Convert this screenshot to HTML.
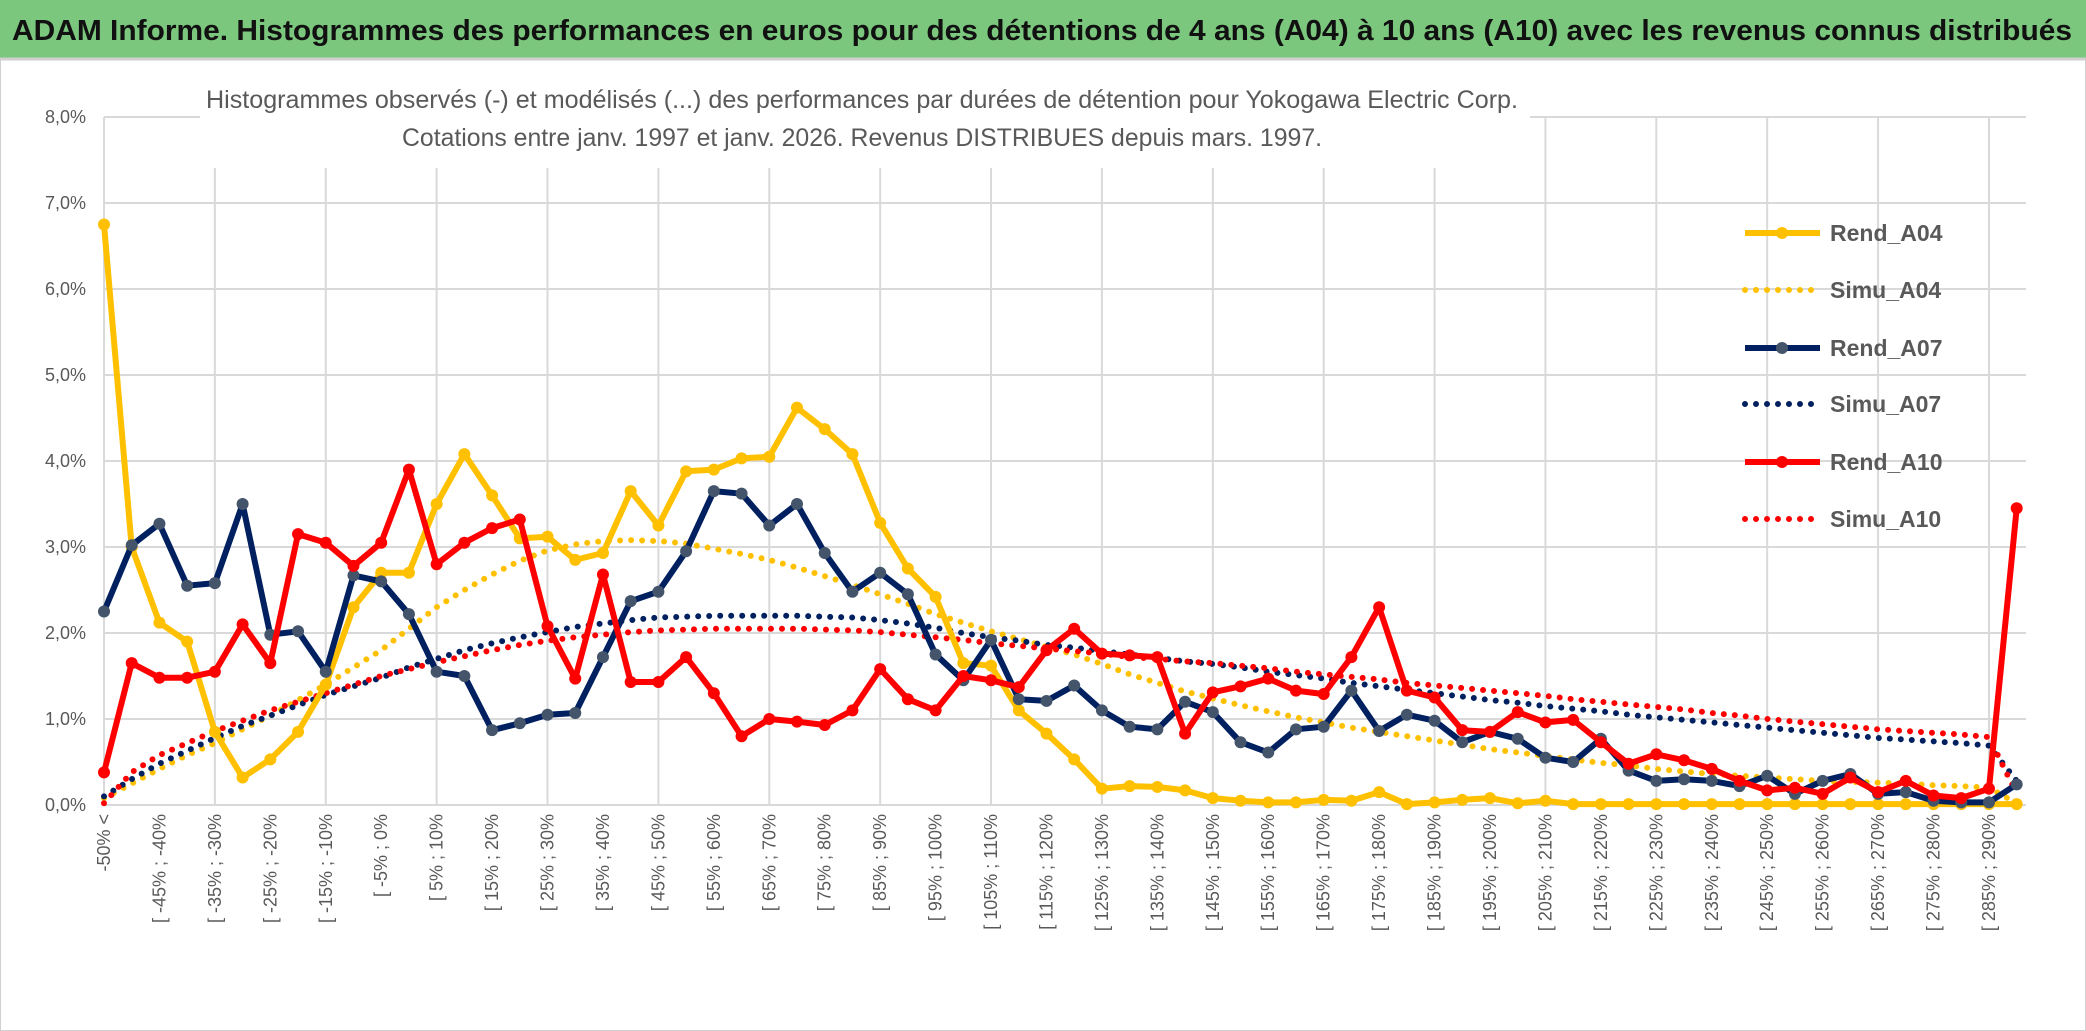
<!DOCTYPE html>
<html><head><meta charset="utf-8"><style>
html,body{margin:0;padding:0;background:#fff;}
#wrap{position:relative;width:2086px;height:1031px;overflow:hidden;background:#fff;font-family:"Liberation Sans Narrow","Liberation Sans",sans-serif;}
</style></head><body>
<div id="wrap">
<svg id="chart" width="2086" height="1031" xmlns="http://www.w3.org/2000/svg">
<rect x="0" y="0" width="2086" height="1031" fill="#fff" stroke="#d0d0d0" stroke-width="2"/>
<rect x="0" y="0" width="2086" height="58" fill="#7cc77e"/>
<line x1="0" y1="59" x2="2086" y2="59" stroke="#cfcfcf" stroke-width="3"/>
<text x="12" y="40" font-size="29" font-weight="bold" fill="#111" textLength="2060" lengthAdjust="spacingAndGlyphs">ADAM Informe. Histogrammes des performances en euros pour des détentions de 4 ans (A04) à 10 ans (A10) avec les revenus connus distribués</text>
<g id="grid"></g>
<g id="ylabels"></g>
<g id="xlabels"></g>
<rect x="200" y="78" width="1330" height="90" fill="#fff"/>
<text x="862" y="108" font-size="25" fill="#595959" text-anchor="middle" textLength="1312" lengthAdjust="spacingAndGlyphs">Histogrammes observés (-) et modélisés (...) des performances par durées de détention pour Yokogawa Electric Corp.</text>
<text x="862" y="146" font-size="25" fill="#595959" text-anchor="middle" textLength="920" lengthAdjust="spacingAndGlyphs">Cotations entre janv. 1997 et janv. 2026. Revenus DISTRIBUES depuis mars. 1997.</text>
<g id="series"></g>
<g id="legend"></g>
</svg>
</div>
<script>
const rendA04=[6.75,3.0,2.12,1.9,0.85,0.32,0.53,0.85,1.4,2.3,2.7,2.7,3.5,4.08,3.6,3.1,3.12,2.85,2.93,3.65,3.25,3.88,3.9,4.03,4.05,4.62,4.37,4.08,3.28,2.75,2.42,1.65,1.62,1.1,0.83,0.53,0.19,0.22,0.21,0.17,0.08,0.05,0.03,0.03,0.06,0.05,0.15,0.01,0.03,0.06,0.08,0.02,0.05,0.01,0.01,0.01,0.01,0.01,0.01,0.01,0.01,0.01,0.01,0.01,0.01,0.01,0.01,0.01,0.01,0.01];
const rendA07=[2.25,3.02,3.27,2.55,2.58,3.5,1.98,2.02,1.55,2.67,2.6,2.22,1.55,1.5,0.87,0.95,1.05,1.07,1.72,2.37,2.48,2.95,3.65,3.62,3.25,3.5,2.93,2.48,2.7,2.45,1.75,1.45,1.92,1.23,1.21,1.39,1.1,0.91,0.88,1.2,1.08,0.73,0.61,0.88,0.91,1.33,0.86,1.05,0.98,0.73,0.85,0.77,0.55,0.5,0.77,0.4,0.28,0.3,0.28,0.22,0.34,0.13,0.28,0.36,0.13,0.15,0.05,0.03,0.03,0.24];
const rendA10=[0.38,1.65,1.48,1.48,1.55,2.1,1.65,3.15,3.05,2.78,3.05,3.9,2.8,3.05,3.22,3.32,2.08,1.47,2.68,1.43,1.43,1.72,1.3,0.8,1.0,0.97,0.93,1.1,1.58,1.23,1.1,1.5,1.45,1.37,1.8,2.05,1.76,1.74,1.72,0.83,1.31,1.38,1.47,1.33,1.29,1.72,2.3,1.33,1.25,0.87,0.85,1.08,0.96,0.99,0.73,0.48,0.59,0.52,0.42,0.28,0.17,0.2,0.13,0.32,0.15,0.28,0.11,0.08,0.19,3.45];
const simuA04=[0.08,0.25,0.42,0.58,0.72,0.88,1.04,1.22,1.4,1.6,1.8,2.05,2.3,2.5,2.68,2.84,2.96,3.03,3.07,3.08,3.07,3.04,2.98,2.92,2.85,2.76,2.66,2.56,2.45,2.34,2.22,2.12,2.02,1.93,1.84,1.75,1.64,1.52,1.42,1.32,1.24,1.16,1.09,1.02,0.96,0.9,0.85,0.8,0.75,0.7,0.65,0.61,0.57,0.53,0.49,0.46,0.42,0.39,0.36,0.34,0.32,0.3,0.28,0.27,0.26,0.25,0.23,0.22,0.2,0.02];
const simuA07=[0.1,0.3,0.48,0.63,0.78,0.92,1.04,1.16,1.28,1.38,1.48,1.6,1.7,1.8,1.88,1.95,2.01,2.07,2.11,2.15,2.18,2.19,2.2,2.2,2.2,2.2,2.19,2.18,2.15,2.11,2.06,2.0,1.95,1.91,1.86,1.83,1.79,1.75,1.71,1.67,1.64,1.6,1.55,1.51,1.47,1.42,1.38,1.34,1.3,1.26,1.22,1.19,1.15,1.12,1.09,1.05,1.02,0.99,0.96,0.93,0.9,0.87,0.84,0.81,0.78,0.76,0.74,0.72,0.69,0.28];
const simuA10=[0.02,0.38,0.58,0.72,0.86,0.98,1.1,1.2,1.3,1.4,1.5,1.58,1.66,1.73,1.8,1.86,1.91,1.95,1.98,2.01,2.03,2.04,2.05,2.05,2.05,2.05,2.04,2.03,2.01,1.98,1.95,1.92,1.88,1.85,1.82,1.79,1.76,1.72,1.7,1.67,1.65,1.62,1.59,1.55,1.52,1.49,1.46,1.42,1.39,1.36,1.33,1.3,1.27,1.23,1.2,1.17,1.14,1.11,1.07,1.04,1.0,0.97,0.94,0.91,0.88,0.86,0.84,0.82,0.79,0.13];
const yTicks=[0,1,2,3,4,5,6,7,8];
const yTickLabels=["0,0%","1,0%","2,0%","3,0%","4,0%","5,0%","6,0%","7,0%","8,0%"];
const categories=["-50% <"];
for(let i=1;i<70;i++){const a=-50+5*(i-1);categories.push("[ "+a+"% ; "+(a+5)+"%");}

const NS="http://www.w3.org/2000/svg";
const X0=104, DX=27.72, Y0=805, DY=86, XR=2026;
const xs=i=>X0+i*DX;
const ys=v=>Y0-v*DY;
function mk(tag,attrs,parent){const e=document.createElementNS(NS,tag);for(const k in attrs)e.setAttribute(k,attrs[k]);parent.appendChild(e);return e;}

const grid=document.getElementById('grid');
yTicks.forEach((t,k)=>{
  const l=mk('line',{x1:X0,x2:XR,y1:ys(t),y2:ys(t),stroke:'#d9d9d9','stroke-width':2},grid);
  
  
  const tx=mk('text',{x:86,y:ys(t)+6,'font-size':18,fill:'#595959','text-anchor':'end'},document.getElementById('ylabels'));
  tx.textContent=yTickLabels[k];
  
  
});
for(let i=0;i<categories.length;i+=4){
  const l=mk('line',{x1:xs(i),x2:xs(i),y1:ys(8),y2:Y0,stroke:'#d9d9d9','stroke-width':2},grid);
  
  
}
const xl=document.getElementById('xlabels');
categories.forEach((c,i)=>{
  if(i%2) return;
  const t=mk('text',{x:0,y:0,'font-size':18,fill:'#595959','text-anchor':'end',transform:`translate(${xs(i)+6},814) rotate(-90)`},xl);
  t.textContent=c;
  
  
});

const sg=document.getElementById('series');
function pathD(arr){return arr.map((v,i)=>(i?'L':'M')+xs(i).toFixed(1)+','+ys(v).toFixed(1)).join(' ');}
function dotted(arr,color,name){
  const p=mk('path',{d:pathD(arr),fill:'none',stroke:color,'stroke-width':6,'stroke-linecap':'round','stroke-dasharray':'0 11'},sg);
  
  
}
function solid(arr,color,mcolor,name){
  const g=mk('g',{},sg);
  
  
  mk('path',{d:pathD(arr),fill:'none',stroke:color,'stroke-width':6,'stroke-linejoin':'round'},g);
  arr.forEach((v,i)=>{
    const c=mk('circle',{cx:xs(i),cy:ys(v),r:6,fill:mcolor},g);
    
    
  });
}
dotted(simuA04,'#ffc000','simu-a04-line');
dotted(simuA07,'#002060','simu-a07-line');
dotted(simuA10,'#ff0000','simu-a10-line');
solid(rendA04,'#ffc000','#ffc000','rend-a04-line');
solid(rendA07,'#002060','#44546a','rend-a07-line');
solid(rendA10,'#ff0000','#ff0000','rend-a10-line');

const lg=document.getElementById('legend');
const legendItems=[["Rend_A04",'#ffc000',false],["Simu_A04",'#ffc000',true],["Rend_A07",'#002060',false],["Simu_A07",'#002060',true],["Rend_A10",'#ff0000',false],["Simu_A10",'#ff0000',true]];
const legendY=[233,290,348,404,462,519];
legendItems.forEach((it,k)=>{
  const g=mk('g',{},lg);
  
  
  const y=legendY[k];
  if(it[2]) mk('line',{x1:1745,x2:1820,y1:y,y2:y,stroke:it[1],'stroke-width':6,'stroke-linecap':'round','stroke-dasharray':'0 11'},g);
  else {mk('line',{x1:1745,x2:1820,y1:y,y2:y,stroke:it[1],'stroke-width':6},g);mk('circle',{cx:1782,cy:y,r:6,fill:it[1]==='#002060'?'#44546a':it[1]},g);}
  const t=mk('text',{x:1830,y:y+8,'font-size':23,'font-weight':'bold',fill:'#595959'},g);
  t.textContent=it[0];
});
</script>
</body></html>
